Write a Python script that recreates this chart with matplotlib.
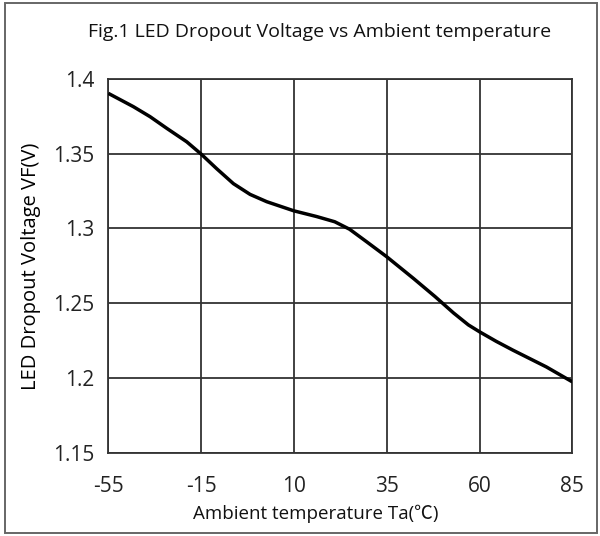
import matplotlib
matplotlib.use("Agg")
import matplotlib.pyplot as plt
from matplotlib.patches import Rectangle
import numpy as np

# Data
tick_temps = [-55, -15, 10, 35, 60, 85]
tick_labels = ["-55", "-15", "10", "35", "60", "85"]
y_ticks = [1.15, 1.2, 1.25, 1.3, 1.35, 1.4]
y_tick_labels = ["1.15", "1.2", "1.25", "1.3", "1.35", "1.4"]
curve_temp = [-55, -44.2, -37.0, -29.8, -21.2, -15, -10.8, -6.3, -1.8, 2.7,
              10, 16.1, 21.0, 25.0, 29.6, 35, 42.2, 48.0, 53.0, 57.0, 60, 64.5, 69, 78, 85]
curve_vf = [1.3904, 1.3815, 1.3748, 1.367, 1.358, 1.3498, 1.340, 1.330, 1.3228, 1.3179,
            1.3118, 1.3080, 1.3045, 1.2995, 1.2911, 1.2811, 1.2666, 1.2545, 1.2435, 1.2355,
            1.2309, 1.2245, 1.2186, 1.2074, 1.1974]

title = "Fig.1 LED Dropout Voltage vs Ambient temperature"
xlabel = "Ambient temperature Ta(℃)"
ylabel = "LED Dropout Voltage VF(V)"

fam = ["Open Sans", "Noto Sans CJK SC", "DejaVu Sans"]
plt.rcParams['font.family'] = fam

fig = plt.figure(figsize=(6.0, 5.36), dpi=100)
ax = fig.add_axes([108.3/600, 1-452.7/536, (572.3-108.3)/600, (452.7-79)/536])

# map temperature to equally spaced tick positions
pos = np.arange(len(tick_temps))
cx = np.interp(curve_temp, tick_temps, pos)
ax.plot(cx, curve_vf, color="black", lw=2.5, solid_capstyle="butt",
        solid_joinstyle="round", zorder=3)

ax.set_xlim(0, len(tick_temps)-1)
ax.set_ylim(1.15, 1.4)
ax.set_xticks(pos)
ax.set_xticklabels(tick_labels, fontsize=15, color="#222222")
ax.set_yticks(y_ticks)
ax.set_yticklabels(y_tick_labels, fontsize=15, color="#222222")
ax.tick_params(axis="x", length=0, pad=17)
ax.tick_params(axis="y", length=0, pad=10)
ax.grid(True, color="#333333", lw=1.3)
for s in ax.spines.values():
    s.set_color("#333333")
    s.set_linewidth(1.3)
ax.set_axisbelow(True)

ax.set_xlabel(xlabel, fontsize=13.5, color="#111111")
ax.xaxis.set_label_coords((315.5-108.3)/464.0, (452.7-514)/373.7)
ax.xaxis.label.set_verticalalignment("center")
ax.set_ylabel(ylabel, fontsize=14.5, color="#000000", labelpad=9)
fig.text(320/600, 1-32/536, title, ha="center", va="center", fontsize=14, color="#111111")

fig.patches.append(Rectangle((5/600, 3/536), 592/600, 530/536, transform=fig.transFigure,
                             fill=False, edgecolor="#666666", lw=1.4))

fig.savefig("out.png", dpi=100)
